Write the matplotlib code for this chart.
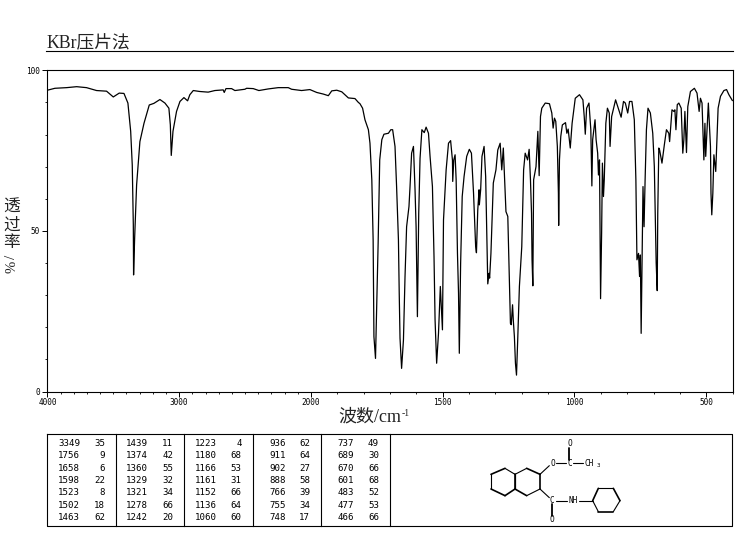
import matplotlib
matplotlib.use('Agg')
import matplotlib.pyplot as plt
import numpy as np

# spectrum: wavenumber, % transmittance
wavenumber = [4000, 3943, 3854, 3778, 3703, 3627, 3551, 3500, 3455, 3419, 3389, 3368, 3356, 3348, 3346, 3338, 3323, 3298,
              3267, 3227, 3192, 3146, 3108, 3078, 3067, 3060, 3047, 3020, 2994, 2964, 2936, 2919, 2893, 2843, 2780, 2729,
              2666, 2658, 2645, 2602, 2577, 2501, 2488, 2438, 2395, 2324, 2248, 2172, 2147, 2071, 2008, 1978, 1953, 1934,
              1921, 1902, 1883, 1858, 1833, 1820, 1814, 1804, 1795, 1782, 1776, 1769, 1764, 1761, 1755, 1749, 1745, 1739,
              1731, 1723, 1706, 1697, 1690, 1681, 1675, 1668, 1665, 1662, 1656, 1649, 1643, 1637, 1628, 1624, 1618, 1611,
              1605, 1601, 1596, 1591, 1586, 1579, 1570, 1563, 1554, 1548, 1539, 1533, 1529, 1523, 1516, 1509, 1501, 1497,
              1487, 1478, 1470, 1463, 1462, 1458, 1453, 1449, 1444, 1440, 1437, 1432, 1426, 1419, 1409, 1399, 1391, 1383,
              1375, 1372, 1367, 1362, 1361, 1356, 1351, 1343, 1337, 1332, 1329, 1324, 1322, 1317, 1308, 1298, 1291, 1282,
              1276, 1270, 1265, 1260, 1253, 1247, 1243, 1240, 1235, 1232, 1228, 1224, 1220, 1215, 1209, 1200, 1193, 1187,
              1178, 1172, 1167, 1163, 1161, 1158, 1155, 1146, 1139, 1134, 1129, 1124, 1111, 1095, 1086, 1081, 1076, 1071,
              1065, 1061, 1060, 1057, 1052, 1046, 1034, 1029, 1024, 1016, 1009, 997, 981, 968, 963, 959, 954, 945, 938,
              934, 931, 922, 918, 912, 909, 905, 902, 901, 897, 894, 890, 887, 881, 875, 868, 865, 859, 844, 836, 823,
              814, 807, 798, 791, 782, 773, 767, 763, 757, 753, 750, 747, 743, 740, 736, 732, 727, 721, 712, 703, 697,
              690, 686, 684, 680, 677, 668, 659, 651, 642, 639, 630, 623, 619, 615, 610, 604, 595, 589, 585, 581, 575,
              570, 560, 545, 535, 527, 522, 516, 509, 505, 502, 497, 492, 484, 482, 479, 475, 471, 464, 455, 446, 433,
              423, 414, 401]
transmittance = [93.8, 94.4, 94.6, 94.9, 94.6, 93.7, 93.5, 91.7, 92.9, 92.8, 89.8, 81, 70.5, 51.9, 36.3, 47.7, 64.3, 77.8,
                 83.5, 89.2, 89.7, 90.9, 89.8, 88.2, 83, 73.5, 81, 87.2, 90.3, 91.5, 90.5, 92.4, 93.7, 93.4, 93.2, 93.7,
                 93.9, 93.1, 94.3, 94.3, 93.7, 94.1, 94.4, 94.3, 93.7, 94.2, 94.6, 94.6, 94.1, 93.7, 94, 93.1, 92.6, 92.1,
                 93.6, 93.8, 93.3, 91.4, 91.2, 90, 89.6, 88.2, 84.6, 81.5, 77.3, 65.9, 47.2, 17.1, 10.3, 32.7, 46.2, 72.1,
                 78.4, 80.1, 80.4, 81.5, 81.5, 76.3, 63.8, 47.2, 30.6, 16.6, 7.2, 16, 35.8, 51.3, 57.6, 63.8, 74.2, 76.3,
                 62.8, 51.3, 23.3, 55.5, 72.6, 81.5, 80.6, 82.3, 80.4, 73.2, 63.8, 42, 22.3, 8.8, 18.1, 32.7, 19.2, 53.4,
                 69, 77.3, 78.1, 72, 65.4, 72.1, 73.7, 65.9, 43, 30.6, 11.9, 39.9, 60.7, 66.9, 73.2, 75.4, 74.2, 61.7,
                 45.1, 43.2, 56.5, 62.8, 58.1, 62.8, 73.2, 76.3, 66.9, 45.1, 33.5, 36.8, 35.3, 43, 64.9, 69, 75.2, 77.3,
                 69, 75.8, 65.9, 56, 54.5, 34.7, 21.2, 20.8, 27, 22, 17.1, 8.8, 5.1, 17.1, 32.7, 45.1, 69, 74.2,
                 72.1, 75.4, 65.9, 55.5, 41, 32.9, 65.9, 70, 81, 67.2, 85.6, 88.2, 89.8, 89.6, 86.7, 82, 85.1, 84.1,
                 76.3, 61.7, 51.7, 72.1, 79.4, 83, 83.7, 80.4, 81.7, 75.8, 83.5, 91.3, 92.4, 90.8, 85.6, 80.1, 88.2, 89.8, 81.5,
                 64, 78.4, 84.6, 78.4, 74.2, 67.4, 72.1, 41, 28.9, 49.3, 71.1, 60.7, 65.9, 83.5, 88.2, 86.7, 76.3, 85.6, 90.8, 88.7, 85.4,
                 90.3, 89.8, 86.7, 90.3, 90.3, 84.6, 65.9, 41, 43, 35.8, 42.5, 18.1, 43, 63.8, 51.3, 65.9, 81.5, 88.2, 86.7, 80.4, 70,
                 40, 31.4, 55.5, 75.8, 75.2, 71.1, 76.8, 81.5, 80.4, 77.8, 87.7, 87.2, 87.7, 81.5, 89.3, 89.8, 88.2, 74.2, 78.4, 87.2, 74.4,
                 88.7, 93.4, 94.4, 92.9, 87.2, 91.3, 89.8, 72.1, 83.5, 73.2, 81.5, 89.8, 76.3, 61.7, 55, 61.7, 73.7, 68.5, 88.2, 91.9, 93.7,
                 94, 92.4, 90.6]

major_x = [4000, 3000, 2000, 1500, 1000, 500]
mid_x = [3500, 2500]
minor_x = [w for w in range(3900, 300, -100) if w not in major_x + mid_x]
y_major = [0, 50, 100]
y_minor = [10, 20, 30, 40, 60, 70, 80, 90]

# peak table, one list per column
peak_wn = [[3349, 1756, 1658, 1598, 1523, 1502, 1463],
           [1439, 1374, 1360, 1329, 1321, 1278, 1242],
           [1223, 1180, 1166, 1161, 1152, 1136, 1060],
           [936, 911, 902, 888, 766, 755, 748],
           [737, 689, 670, 601, 483, 477, 466]]
peak_t = [[35, 9, 6, 22, 8, 18, 62],
          [11, 42, 55, 32, 34, 66, 20],
          [4, 68, 53, 31, 66, 64, 60],
          [62, 64, 27, 58, 39, 34, 17],
          [49, 30, 66, 68, 52, 53, 66]]

W, H = 737, 539
fig = plt.figure(figsize=(7.37, 5.39), dpi=100)

# two different scales either side of 2000 cm-1
def fwd(w):
    w = np.asarray(w, dtype=float)
    return np.where(w < 2000, w, 2000 + (w - 2000) / 2)

def inv(p):
    p = np.asarray(p, dtype=float)
    return np.where(p < 2000, p, 2000 + (p - 2000) * 2)

ax = fig.add_axes([47.4 / W, 1 - 391.5 / H, (732.6 - 47.4) / W, (391.5 - 70.3) / H])
ax.set_xscale('function', functions=(fwd, inv))
ax.plot(wavenumber, transmittance, color='k', linewidth=0.9)
ax.set_xlim(4000, 400)
ax.set_ylim(0, 100)
ax.set_xticks(major_x)
ax.set_xticklabels([str(w) for w in major_x], fontsize=5.6, family='DejaVu Sans Mono')
ax.set_xticks(minor_x + mid_x, minor=True)
ax.set_yticks(y_major)
ax.set_yticklabels([str(v) for v in y_major], fontsize=5.6, family='DejaVu Sans Mono')
ax.set_yticks(y_minor, minor=True)
ax.tick_params(axis='x', which='major', length=3.5, width=0.7, pad=1)
ax.tick_params(axis='y', which='major', length=3.5, width=0.7, pad=2)
ax.tick_params(which='minor', length=1.3, width=0.6)
for s in ax.spines.values():
    s.set_linewidth(0.8)

# overlay in pixel coordinates for heading, labels, table and structure
ov = fig.add_axes([0, 0, 1, 1])
ov.set_xlim(0, W)
ov.set_ylim(H, 0)
ov.axis('off')
ov.patch.set_alpha(0)

cjk = ['Liberation Serif', 'Noto Sans CJK SC', 'DejaVu Sans']
ov.text(46, 48.5, 'KBr压片法', fontsize=12.8, family=cjk, ha='left', va='baseline', color='#222222')
ov.plot([46, 733], [50.5, 50.5], color='k', lw=0.8)

for ch, yy in zip('透过率', [208, 226, 243]):
    ov.text(11.5, yy, ch, fontsize=12, family=cjk, ha='center', va='center', color='#222222')
ov.text(12, 257, '/', fontsize=11, family=cjk, ha='center', va='center', rotation=90, color='#222222')
ov.text(12, 267, '%', fontsize=10.5, family=cjk, ha='center', va='center', rotation=90, color='#222222')

ov.text(401, 417, '波数/cm', fontsize=13, family=cjk, ha='right', va='center', color='#222222')
ov.text(402, 413, '-1', fontsize=7, family=cjk, ha='left', va='center', color='#222222')

# table
ov.plot([47.3, 732.5, 732.5, 47.3, 47.3], [434, 434, 526, 526, 434], color='k', lw=0.8)
for x in [116.3, 184.3, 253.3, 321.3, 390.3]:
    ov.plot([x, x], [434, 526], color='k', lw=0.8)
row_y = [443.3, 455.7, 468.3, 480.3, 492.7, 505.7, 518]
wn_right = [80, 148.3, 217.3, 285.7, 354]
t_right = [105, 173.3, 241.7, 310, 379]
for c in range(5):
    for r in range(7):
        ov.text(wn_right[c], row_y[r], str(peak_wn[c][r]), fontsize=6.6, family='DejaVu Sans Mono', ha='right', va='center')
        ov.text(t_right[c], row_y[r], str(peak_t[c][r]), fontsize=6.6, family='DejaVu Sans Mono', ha='right', va='center')

# structure, drawn in zoomed crop units
def sx(v):
    return 390 + v / 3

def sy(v):
    return 425 + v / 3

def bond(x0, y0, x1, y1, lw=0.8):
    ov.plot([sx(x0), sx(x1)], [sy(y0), sy(y1)], color='k', lw=lw, solid_capstyle='round')

left_ring = [(303, 148), (345, 130), (375, 148), (375, 192), (345, 212), (303, 192)]
right_ring = [(375, 148), (410, 130), (450, 148), (450, 192), (410, 212), (375, 192)]
phenyl = [(608, 227), (625, 190), (670, 190), (690, 227), (670, 260), (625, 260)]
for ring, thick in [(left_ring, (0, 3, 4)), (right_ring, (1, 2, 4)), (phenyl, (0, 2, 4))]:
    for i in range(6):
        a, b = ring[i], ring[(i + 1) % 6]
        bond(a[0], a[1], b[0], b[1], 1.2 if i in thick else 0.8)
bond(375, 148, 375, 192, 1.2)
bond(450, 148, 478, 122)
bond(497, 115, 528, 115)
bond(548, 115, 580, 115)
bond(538, 105, 538, 68, 1.3)
bond(450, 192, 478, 218)
bond(497, 227, 530, 227)
bond(568, 227, 608, 227)
bond(486, 238, 486, 272, 1.3)
for label, x, y in [('O', 487, 115), ('C', 538, 115), ('O', 538, 55), ('C', 486, 227), ('NH', 550, 227), ('O', 486, 284)]:
    ov.text(sx(x), sy(y), label, fontsize=5.6, family='DejaVu Sans Mono', ha='center', va='center')
ov.text(sx(585), sy(116), 'CH', fontsize=5.6, family='DejaVu Sans Mono', ha='left', va='center')
ov.text(sx(621), sy(121), '3', fontsize=4.2, family='DejaVu Sans Mono', ha='left', va='center')

fig.savefig('out.png', dpi=100)
